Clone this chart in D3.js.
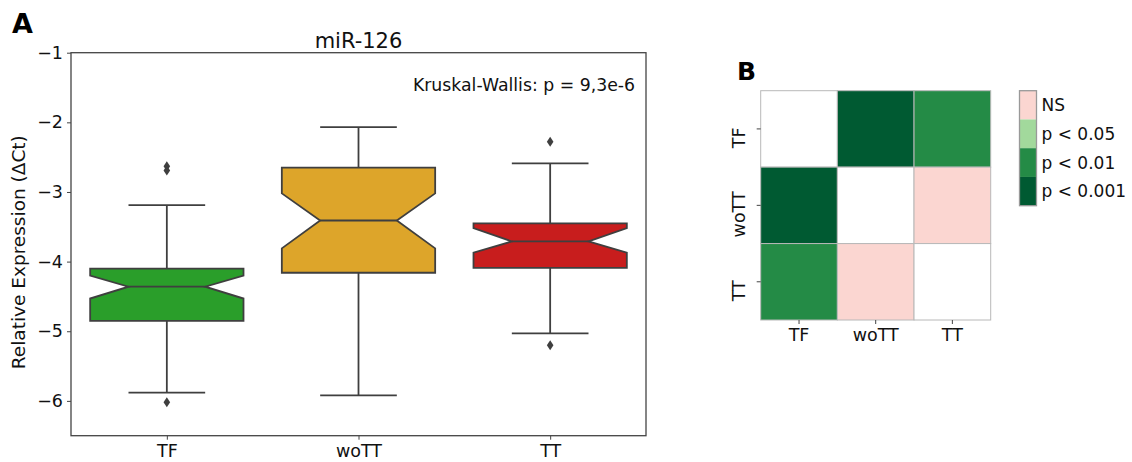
<!DOCTYPE html>
<html>
<head>
<meta charset="utf-8">
<script src="https://cdn.jsdelivr.net/npm/d3@7"></script>
<style>
  body { margin: 0; background: #fff; }
  svg { font-family: "DejaVu Sans", sans-serif; }
</style>
</head>
<body>
<svg id="fig" width="1132" height="462"></svg>
<script>
// miR-126 relative expression per group (box-plot summary statistics)
const groups     = ["TF", "woTT", "TT"];
const boxColors  = ["#2a9e2a", "#dda52a", "#c81d1d"];
const whiskerLo  = [-5.88, -5.92, -5.03];
const q1         = [-4.85, -4.16, -4.09];
const notchLo    = [-4.53, -3.81, -3.87];
const medians    = [-4.36, -3.41, -3.71];
const notchHi    = [-4.20, -3.02, -3.52];
const q3         = [-4.10, -2.65, -3.45];
const whiskerHi  = [-3.19, -2.07, -2.59];
const outliers   = [[-2.63, -2.69, -6.02], [], [-2.28, -5.20]];
const yTicks     = [-1, -2, -3, -4, -5, -6];

// pairwise significance levels: 0 = diagonal, 1 = NS, 2 = p<0.05, 3 = p<0.01, 4 = p<0.001
const pairLevels = [
  [0, 4, 3],
  [4, 0, 1],
  [3, 1, 0]
];
const levelLabels = ["NS", "p < 0.05", "p < 0.01", "p < 0.001"];
const levelColors = ["#ffffff", "#fbd6d1", "#a2d99c", "#248b46", "#005a32"];

const svg = d3.select("#fig");
const ink = "#3f3f3f";
const tickFont = 17.5;

// ---------- Panel A: notched box plot ----------
const A = { left: 71, right: 646, top: 52.7, bottom: 435.7 };
const x = d3.scaleLinear().domain([-0.5, 2.5]).range([A.left, A.right]);
const y = d3.scaleLinear().domain([-6.5, -1]).range([A.bottom, A.top]);
const boxW = x(0.4) - x(0);   // half width of a box
const capW = x(0.2) - x(0);

const gA = svg.append("g");

groups.forEach((g, i) => {
  const cx = x(i);
  // whiskers
  gA.append("line").attr("x1", cx).attr("x2", cx).attr("y1", y(q3[i])).attr("y2", y(whiskerHi[i]))
    .attr("stroke", ink).attr("stroke-width", 1.8);
  gA.append("line").attr("x1", cx).attr("x2", cx).attr("y1", y(q1[i])).attr("y2", y(whiskerLo[i]))
    .attr("stroke", ink).attr("stroke-width", 1.8);
  // caps
  [whiskerHi[i], whiskerLo[i]].forEach(v => {
    gA.append("line").attr("x1", cx - capW).attr("x2", cx + capW).attr("y1", y(v)).attr("y2", y(v))
      .attr("stroke", ink).attr("stroke-width", 1.8);
  });
  // notched box
  const pts = [
    [cx - boxW, y(q1[i])], [cx - boxW, y(notchLo[i])], [cx - boxW / 2, y(medians[i])],
    [cx - boxW, y(notchHi[i])], [cx - boxW, y(q3[i])], [cx + boxW, y(q3[i])],
    [cx + boxW, y(notchHi[i])], [cx + boxW / 2, y(medians[i])], [cx + boxW, y(notchLo[i])],
    [cx + boxW, y(q1[i])]
  ];
  gA.append("path").attr("d", d3.line()(pts) + "Z")
    .attr("fill", boxColors[i]).attr("stroke", ink).attr("stroke-width", 1.8)
    .attr("stroke-linejoin", "miter");
  // median
  gA.append("line").attr("x1", cx - boxW / 2).attr("x2", cx + boxW / 2)
    .attr("y1", y(medians[i])).attr("y2", y(medians[i]))
    .attr("stroke", ink).attr("stroke-width", 1.8);
  // fliers
  outliers[i].forEach(v => {
    const py = y(v);
    gA.append("path").attr("d", `M${cx},${py - 5}L${cx + 3.3},${py}L${cx},${py + 5}L${cx - 3.3},${py}Z`)
      .attr("fill", ink);
  });
});

// frame
gA.append("rect").attr("x", A.left).attr("y", A.top)
  .attr("width", A.right - A.left).attr("height", A.bottom - A.top)
  .attr("fill", "none").attr("stroke", "#444").attr("stroke-width", 1.3);

// axes
const yAxis = d3.axisLeft(y).tickValues(yTicks).tickSize(4).tickPadding(4)
  .tickFormat(d => d3.format("d")(d).replace("-", "\u2212"));
gA.append("g").attr("transform", `translate(${A.left},0)`).call(yAxis)
  .call(s => s.select(".domain").remove())
  .call(s => s.selectAll("line").attr("stroke", "#444"))
  .call(s => s.selectAll("text").attr("font-size", tickFont).attr("fill", "#111")
    .attr("font-family", "DejaVu Sans"));

const xAxis = d3.axisBottom(x).tickValues([0, 1, 2]).tickSize(4).tickPadding(5)
  .tickFormat(i => groups[i]);
gA.append("g").attr("transform", `translate(0,${A.bottom})`).call(xAxis)
  .call(s => s.select(".domain").remove())
  .call(s => s.selectAll("line").attr("stroke", "#444"))
  .call(s => s.selectAll("text").attr("font-size", tickFont).attr("fill", "#111")
    .attr("font-family", "DejaVu Sans"));

gA.append("text").attr("transform", `translate(25,${(A.top + A.bottom) / 2 + 8}) rotate(-90)`)
  .attr("text-anchor", "middle").attr("font-size", 18.5).attr("fill", "#111")
  .text("Relative Expression (\u0394Ct)");

gA.append("text").attr("x", (A.left + A.right) / 2).attr("y", 47.5)
  .attr("text-anchor", "middle").attr("font-size", 21).attr("fill", "#111").text("miR-126");

gA.append("text").attr("x", 635).attr("y", 90.7)
  .attr("text-anchor", "end").attr("font-size", 17.3).attr("fill", "#111")
  .text("Kruskal-Wallis: p = 9,3e-6");

svg.append("text").attr("x", 12).attr("y", 33).attr("font-size", 27).attr("font-weight", "bold")
  .attr("fill", "#000").text("A");

// ---------- Panel B: pairwise significance heatmap ----------
const B = { left: 760.7, right: 990.7, top: 90.7, bottom: 320 };
const hx = d3.scaleBand().domain(groups).range([B.left, B.right]);
const hy = d3.scaleBand().domain(groups).range([B.top, B.bottom]);
const gB = svg.append("g");

pairLevels.forEach((row, r) => {
  row.forEach((lvl, c) => {
    gB.append("rect")
      .attr("x", hx(groups[c])).attr("y", hy(groups[r]))
      .attr("width", hx.bandwidth()).attr("height", hy.bandwidth())
      .attr("fill", levelColors[lvl]).attr("stroke", "#b8b8b8").attr("stroke-width", 1);
  });
});

const hxAxis = d3.axisBottom(hx).tickSize(4).tickPadding(5);
gB.append("g").attr("transform", `translate(0,${B.bottom})`).call(hxAxis)
  .call(s => s.select(".domain").remove())
  .call(s => s.selectAll("line").attr("stroke", "#444"))
  .call(s => s.selectAll("text").attr("font-size", tickFont).attr("fill", "#111")
    .attr("font-family", "DejaVu Sans"));

const hyAxis = d3.axisLeft(hy).tickSize(4).tickPadding(5);
gB.append("g").attr("transform", `translate(${B.left},0)`).call(hyAxis)
  .call(s => s.select(".domain").remove())
  .call(s => s.selectAll("line").attr("stroke", "#444"))
  .call(s => s.selectAll("text").attr("font-size", tickFont).attr("fill", "#111")
    .attr("font-family", "DejaVu Sans")
    .attr("text-anchor", "middle").attr("dy", null)
    .attr("transform", "translate(-16,0) rotate(-90)"));

svg.append("text").attr("x", 737).attr("y", 80).attr("font-size", 25).attr("font-weight", "bold")
  .attr("fill", "#000").text("B");

// legend colour bar
const L = { left: 1019.5, width: 17, top: 90.7, height: 115 };
const ly = d3.scaleBand().domain(levelLabels).range([L.top, L.top + L.height]);
levelLabels.forEach((lab, k) => {
  gB.append("rect").attr("x", L.left).attr("y", ly(lab))
    .attr("width", L.width).attr("height", ly.bandwidth())
    .attr("fill", levelColors[k + 1]);
  gB.append("text").attr("x", L.left + L.width + 5).attr("y", ly(lab) + ly.bandwidth() / 2)
    .attr("dy", "0.35em").attr("font-size", 17).attr("fill", "#111").text(lab);
});
gB.append("rect").attr("x", L.left).attr("y", L.top).attr("width", L.width).attr("height", L.height)
  .attr("fill", "none").attr("stroke", "#999").attr("stroke-width", 1.3);
</script>
</body>
</html>
